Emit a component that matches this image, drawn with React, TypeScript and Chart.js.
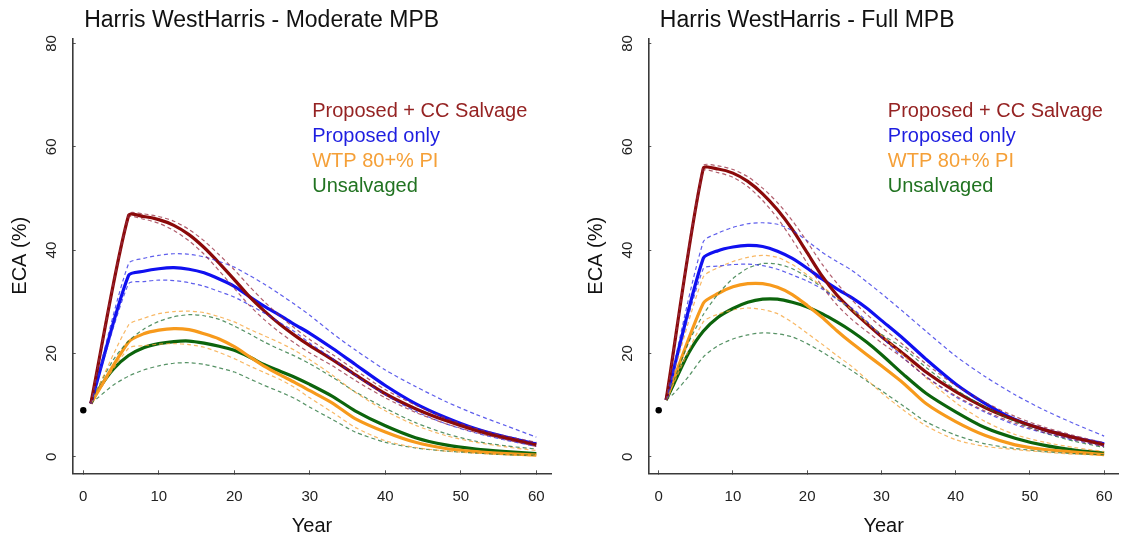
import React, { useEffect, useRef } from 'react';
import { Chart, registerables } from 'chart.js';

Chart.register(...registerables);

// ---------- data ----------
const yearsKink = [1, 6, 8, 10, 12, 14, 16, 18, 20, 22, 24, 26, 28, 30, 33, 36, 40, 44, 48, 52, 56, 60];
const yearsSmooth = [1, 2, 4, 6, 8, 10, 12, 14, 16, 18, 20, 22, 24, 26, 28, 30, 33, 36, 40, 44, 48, 52, 56, 60];
const xTickValues = [0, 10, 20, 30, 40, 50, 60];
const yTickValues = [0, 20, 40, 60, 80];
const initialYear = [0];
const initialECA = [9];
const seriesLabels = ['Proposed + CC Salvage', 'Proposed only', 'WTP 80+% PI', 'Unsalvaged'];
const panelTitles = ['Harris WestHarris - Moderate MPB', 'Harris WestHarris - Full MPB'];

// Moderate MPB (yearsKink for first three series, yearsSmooth for Unsalvaged)
const modSalvage = [10.3, 46.7, 46.5, 45.9, 44.8, 43.0, 40.5, 37.5, 34.3, 31.0, 28.2, 25.7, 23.5, 21.5, 18.8, 15.9, 12.2, 9.3, 7.0, 5.1, 3.6, 2.3];
const modSalvageHi = [10.3, 47.0, 47.0, 46.5, 45.6, 44.0, 41.8, 39.1, 36.2, 33.0, 30.0, 27.3, 24.9, 22.7, 19.8, 16.8, 13.0, 10.0, 7.5, 5.5, 4.0, 2.8];
const modSalvageLo = [10.3, 46.3, 46.0, 45.2, 43.8, 41.8, 39.2, 36.0, 32.6, 29.3, 26.5, 24.1, 22.0, 20.1, 17.6, 14.8, 11.4, 8.6, 6.4, 4.7, 3.3, 2.0];
const modProposed = [10.3, 35.1, 35.9, 36.4, 36.6, 36.3, 35.6, 34.4, 33.0, 31.0, 29.1, 27.4, 25.6, 23.9, 21.0, 17.9, 13.8, 10.3, 7.6, 5.4, 3.8, 2.5];
const modProposedHi = [10.3, 37.4, 38.4, 39.0, 39.3, 39.2, 38.7, 37.8, 36.7, 35.1, 33.4, 31.5, 29.5, 27.4, 23.9, 20.7, 16.8, 13.6, 10.7, 8.2, 6.0, 3.8];
const modProposedLo = [10.3, 33.5, 33.9, 34.2, 34.1, 33.7, 33.0, 32.0, 30.9, 29.4, 27.8, 26.0, 24.2, 22.0, 19.0, 15.8, 12.0, 8.8, 6.4, 4.6, 3.2, 2.0];
const modWtp = [10.3, 22.2, 23.8, 24.5, 24.8, 24.6, 23.8, 22.8, 21.3, 19.4, 17.5, 15.9, 14.4, 12.8, 10.4, 7.4, 4.8, 2.8, 1.6, 1.0, 0.6, 0.3];
const modWtpHi = [10.3, 25.5, 26.8, 27.7, 28.1, 28.2, 27.9, 27.1, 26.1, 24.7, 23.4, 22.1, 20.6, 18.8, 15.8, 12.5, 8.9, 6.1, 4.1, 2.8, 1.9, 1.2];
const modWtpLo = [10.3, 21.0, 21.5, 21.8, 21.9, 21.7, 21.2, 20.2, 19.0, 17.6, 16.3, 15.0, 13.4, 11.4, 8.6, 5.7, 3.1, 1.8, 1.1, 0.7, 0.4, 0.2];
const modUnsalv = [10.3, 13.0, 17.0, 19.6, 21.1, 21.9, 22.3, 22.4, 22.0, 21.4, 20.6, 19.3, 17.8, 16.6, 15.4, 14.0, 11.7, 8.9, 6.0, 3.7, 2.3, 1.5, 1.0, 0.6];
const modUnsalvHi = [10.3, 13.5, 18.8, 22.4, 24.7, 26.2, 27.1, 27.5, 27.3, 26.6, 25.3, 23.8, 22.2, 20.8, 19.5, 18.0, 15.4, 12.6, 9.4, 6.6, 4.5, 3.0, 2.1, 1.5];
const modUnsalvLo = [10.3, 11.5, 13.9, 15.6, 16.8, 17.6, 18.1, 18.2, 17.9, 17.2, 16.4, 15.1, 13.8, 12.6, 11.3, 9.6, 7.2, 4.8, 2.8, 1.7, 1.1, 0.7, 0.4, 0.3];

// Full MPB
const fullSalvage = [11.0, 55.8, 55.7, 54.9, 53.3, 50.9, 47.8, 44.0, 39.5, 35.0, 31.3, 28.4, 25.8, 23.3, 19.9, 16.4, 12.6, 9.5, 7.1, 5.2, 3.7, 2.3];
const fullSalvageHi = [11.0, 56.3, 56.3, 55.6, 54.2, 52.0, 49.2, 45.7, 41.6, 37.3, 33.6, 30.4, 27.6, 25.1, 21.6, 18.0, 13.8, 10.5, 7.8, 5.7, 4.1, 2.7];
const fullSalvageLo = [11.0, 55.3, 55.0, 54.1, 52.3, 49.6, 46.2, 42.0, 37.5, 33.0, 29.4, 26.6, 24.3, 22.1, 19.0, 15.5, 11.8, 8.8, 6.5, 4.7, 3.3, 2.0];
const fullProposed = [11.0, 38.4, 39.9, 40.6, 40.9, 40.7, 39.8, 38.4, 36.5, 34.4, 32.5, 30.8, 28.8, 26.4, 22.8, 18.9, 14.1, 10.3, 7.2, 5.2, 3.7, 2.5];
const fullProposedHi = [11.0, 41.6, 43.3, 44.4, 45.1, 45.3, 45.0, 43.8, 41.8, 39.6, 37.8, 36.1, 33.9, 31.6, 28.0, 24.3, 19.5, 15.5, 12.0, 9.0, 6.4, 4.0];
const fullProposedLo = [11.0, 36.4, 36.9, 37.2, 37.3, 37.0, 36.3, 35.2, 34.0, 32.5, 30.5, 28.8, 26.3, 23.2, 19.1, 15.5, 11.6, 8.6, 6.2, 4.6, 3.2, 2.0];
const fullWtp = [11.0, 29.7, 31.6, 32.9, 33.5, 33.5, 32.8, 31.4, 29.3, 27.0, 24.4, 22.0, 19.8, 17.6, 14.2, 10.3, 6.8, 4.1, 2.3, 1.4, 0.9, 0.4];
const fullWtpHi = [11.0, 34.8, 36.6, 37.8, 38.6, 39.0, 38.6, 37.2, 35.2, 33.0, 30.7, 28.5, 26.0, 23.5, 19.6, 15.3, 10.5, 6.8, 4.3, 2.8, 1.8, 1.0];
const fullWtpLo = [11.0, 26.1, 27.6, 28.4, 28.8, 28.5, 27.7, 26.0, 23.9, 21.8, 19.6, 17.5, 15.0, 12.4, 9.0, 6.0, 3.3, 2.0, 1.4, 0.9, 0.5, 0.3];
const fullUnsalv = [11.0, 14.0, 20.0, 24.3, 27.0, 28.7, 29.9, 30.5, 30.5, 29.9, 29.0, 27.7, 26.1, 24.3, 22.2, 19.8, 15.9, 12.3, 8.7, 5.6, 3.6, 2.2, 1.3, 0.7];
const fullUnsalvHi = [11.0, 14.5, 22.0, 27.5, 31.5, 34.5, 36.5, 37.4, 37.3, 36.4, 34.8, 32.8, 30.6, 28.4, 26.0, 23.7, 21.0, 17.3, 13.0, 9.6, 6.8, 4.6, 3.0, 1.8];
const fullUnsalvLo = [11.0, 12.2, 15.5, 19.3, 21.5, 22.8, 23.6, 24.0, 23.8, 23.2, 21.9, 20.3, 18.5, 16.7, 14.7, 12.8, 9.8, 6.8, 4.2, 2.5, 1.6, 1.0, 0.6, 0.4];

// ---------- styling ----------
const FONT = '"Liberation Sans", Arial, Helvetica, sans-serif';
const lineColors = ['#8b0a0a', '#1010f0', '#f79a1c', '#0c640c'];
const dashColors = ['rgba(150,40,60,0.75)', 'rgba(40,40,230,0.75)', 'rgba(245,160,50,0.75)', 'rgba(30,110,50,0.75)'];
const legendColors = ['#952323', '#1e1ee0', '#f5a038', '#217321'];

const W = 1130;
const H = 540;
const AREA_TOP = 38.3;
const AXIS_Y = 473.3;
const X_MIN = -1.4;
const X_MAX = 62;
const Y_MIN = -3.2;
const Y_MAX = 81;

type Series = { xs: number[]; mid: number[]; hi: number[]; lo: number[] };
type Panel = { title: string; canvasLeft: number; canvasWidth: number; areaLeft: number; areaRight: number; series: Series[] };

const panels: Panel[] = [
  {
    title: panelTitles[0], canvasLeft: 0, canvasWidth: 565, areaLeft: 72.7, areaRight: 551.4,
    series: [
      { xs: yearsKink, mid: modSalvage, hi: modSalvageHi, lo: modSalvageLo },
      { xs: yearsKink, mid: modProposed, hi: modProposedHi, lo: modProposedLo },
      { xs: yearsKink, mid: modWtp, hi: modWtpHi, lo: modWtpLo },
      { xs: yearsSmooth, mid: modUnsalv, hi: modUnsalvHi, lo: modUnsalvLo },
    ],
  },
  {
    title: panelTitles[1], canvasLeft: 576, canvasWidth: W - 576, areaLeft: 72.3, areaRight: 552,
    series: [
      { xs: yearsKink, mid: fullSalvage, hi: fullSalvageHi, lo: fullSalvageLo },
      { xs: yearsKink, mid: fullProposed, hi: fullProposedHi, lo: fullProposedLo },
      { xs: yearsKink, mid: fullWtp, hi: fullWtpHi, lo: fullWtpLo },
      { xs: yearsSmooth, mid: fullUnsalv, hi: fullUnsalvHi, lo: fullUnsalvLo },
    ],
  },
];

const pts = (xs: number[], ys: number[]) => xs.map((x, i) => ({ x, y: ys[i] }));

function PanelChart({ panel }: { panel: Panel }) {
  const ref = useRef<HTMLCanvasElement | null>(null);
  useEffect(() => {
    const canvas = ref.current;
    if (!canvas) return;
    const datasets: any[] = [];
    panel.series.forEach((s, i) => {
      datasets.push({ data: pts(s.xs, s.hi), borderColor: dashColors[i], borderWidth: 1.2, borderDash: [4, 3], tension: 0.25, pointRadius: 0, order: 1 });
      datasets.push({ data: pts(s.xs, s.lo), borderColor: dashColors[i], borderWidth: 1.2, borderDash: [4, 3], tension: 0.25, pointRadius: 0, order: 1 });
    });
    panel.series.forEach((s, i) => {
      datasets.push({ data: pts(s.xs, s.mid), borderColor: lineColors[i], borderWidth: 3.2, tension: 0.25, pointRadius: 0, order: 2 });
    });
    datasets.push({ data: pts(initialYear, initialECA), showLine: false, pointRadius: 3.2, pointBackgroundColor: '#000', pointBorderColor: '#000', borderWidth: 0, order: 0 });

    const textPlugin = {
      id: 'panelText',
      afterDraw(chart: any) {
        const { ctx, chartArea } = chart;
        ctx.save();
        ctx.textBaseline = 'middle';
        ctx.textAlign = 'left';
        ctx.fillStyle = '#111';
        ctx.font = `23px ${FONT}`;
        ctx.fillText(panel.title, chartArea.left + 11.5, 21);
        ctx.font = `20px ${FONT}`;
        seriesLabels.forEach((lab, i) => {
          ctx.fillStyle = legendColors[i];
          ctx.fillText(lab, chartArea.left + 239.5, 111 + 25 * i);
        });
        ctx.restore();
      },
    };

    const chart = new Chart(canvas, {
      type: 'line',
      data: { datasets },
      options: {
        animation: false,
        responsive: false,
        devicePixelRatio: 1,
        layout: { padding: { left: 0, top: AREA_TOP, right: panel.canvasWidth - panel.areaRight, bottom: 0 } },
        plugins: { legend: { display: false }, title: { display: false }, tooltip: { enabled: false } },
        scales: {
          x: {
            type: 'linear', position: 'bottom', min: X_MIN, max: X_MAX,
            afterFit: (s: any) => { s.height = H - AXIS_Y; },
            afterBuildTicks: (s: any) => { s.ticks = xTickValues.map((v) => ({ value: v })); },
            grid: { drawOnChartArea: false, drawTicks: true, tickLength: -3, color: '#555', lineWidth: 1 },
            border: { display: true, color: '#3a3a3a', width: 1.6 },
            ticks: { autoSkip: false, maxRotation: 0, minRotation: 0, padding: 17.4, color: '#222', font: { family: FONT, size: 15 } },
            title: { display: true, text: 'Year', color: '#111', font: { family: FONT, size: 20 }, padding: { top: 0, bottom: 1.3 } },
          },
          y: {
            type: 'linear', position: 'left', min: Y_MIN, max: Y_MAX,
            afterFit: (s: any) => { s.width = panel.areaLeft; },
            afterBuildTicks: (s: any) => { s.ticks = yTickValues.map((v) => ({ value: v })); },
            grid: { drawOnChartArea: false, drawTicks: true, tickLength: -3, color: '#555', lineWidth: 1 },
            border: { display: true, color: '#3a3a3a', width: 1.6 },
            ticks: { autoSkip: false, minRotation: 90, maxRotation: 90, crossAlign: 'center', padding: 15.2, color: '#222', font: { family: FONT, size: 15 } },
            title: { display: true, text: 'ECA (%)', color: '#111', font: { family: FONT, size: 20 }, padding: { top: 8.5, bottom: 0 } },
          },
        },
      } as any,
      plugins: [textPlugin],
    });
    return () => chart.destroy();
  }, [panel]);

  return (
    <canvas
      ref={ref}
      width={panel.canvasWidth}
      height={H}
      style={{ position: 'absolute', left: panel.canvasLeft, top: 0, width: panel.canvasWidth, height: H }}
    />
  );
}

export default function App() {
  return (
    <div style={{ position: 'absolute', left: 0, top: 0, width: W, height: H, background: '#fff', overflow: 'hidden' }}>
      {panels.map((p, i) => (
        <PanelChart key={i} panel={p} />
      ))}
    </div>
  );
}
